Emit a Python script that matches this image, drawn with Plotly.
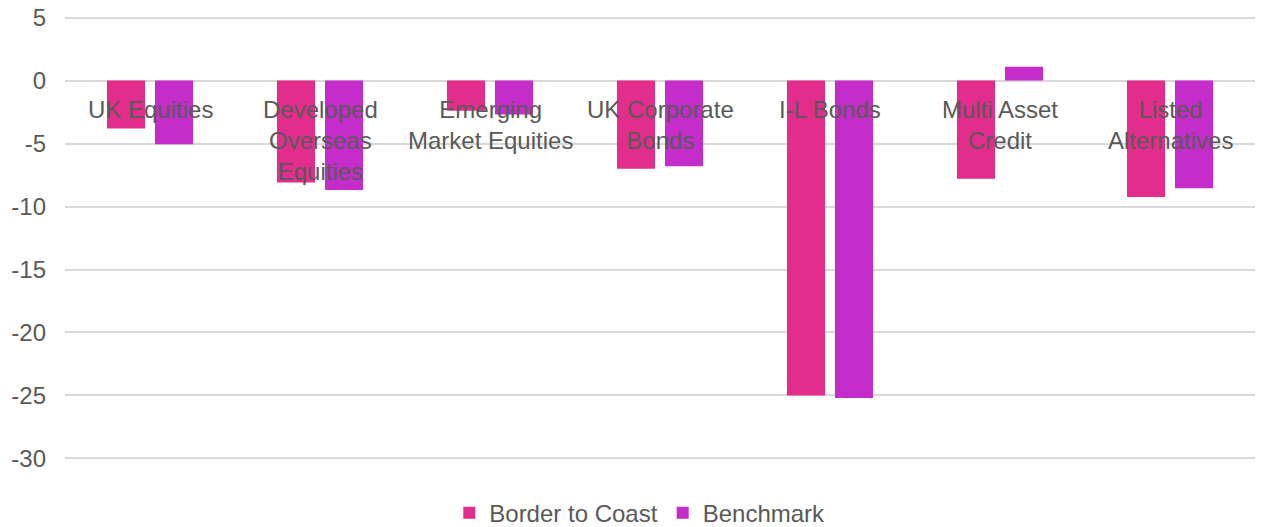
import plotly.graph_objects as go

categories = ["UK Equities", "Developed Overseas Equities", "Emerging Market Equities",
              "UK Corporate Bonds", "I-L Bonds", "Multi Asset Credit", "Listed Alternatives"]
category_labels = ["UK Equities", "Developed<br>Overseas<br>Equities", "Emerging<br>Market Equities",
                   "UK Corporate<br>Bonds", "I-L Bonds", "Multi Asset<br>Credit", "Listed<br>Alternatives"]
border_to_coast = [-3.8, -8.1, -2.4, -7.0, -25.0, -7.8, -9.25]
benchmark = [-5.05, -8.7, -2.7, -6.8, -25.2, 1.1, -8.55]
y_ticks = [5, 0, -5, -10, -15, -20, -25, -30]

FONT = "Arial, Liberation Sans, sans-serif"
TXT = "#595959"

fig = go.Figure()
fig.add_trace(go.Bar(x=categories, y=border_to_coast, name="Border to Coast",
                     marker=dict(color="#E32D8C", line=dict(width=0))))
fig.add_trace(go.Bar(x=categories, y=benchmark, name="Benchmark",
                     marker=dict(color="#C42DC9", line=dict(width=0))))

for c, lab in zip(categories, category_labels):
    fig.add_annotation(x=c, y=0, xref="x", yref="y", text=lab, showarrow=False,
                       yanchor="top", yshift=-13,
                       font=dict(family=FONT, size=24, color=TXT))

fig.update_layout(
    width=1261, height=527,
    margin=dict(l=65, r=6, t=15, b=66, autoexpand=False),
    paper_bgcolor="white", plot_bgcolor="white",
    barmode="group", bargap=0.435, bargroupgap=0.208,
    font=dict(family=FONT, size=24, color=TXT),
    showlegend=True,
    legend=dict(orientation="h", x=0.483, xanchor="center", y=-0.117, yanchor="middle",
                font=dict(family=FONT, size=24, color=TXT), itemwidth=30,
                traceorder="normal"),
    xaxis=dict(showticklabels=False, showgrid=False, showline=False, zeroline=False, ticks=""),
    yaxis=dict(range=[-30.2, 5.2], tickvals=y_ticks, ticktext=[str(v) for v in y_ticks],
               showgrid=True, gridcolor="#D9D9D9", gridwidth=2, zeroline=False,
               showline=False, ticks="", ticklabelstandoff=18,
               tickfont=dict(family=FONT, size=24, color=TXT)),
)

fig.write_html("out.html")
